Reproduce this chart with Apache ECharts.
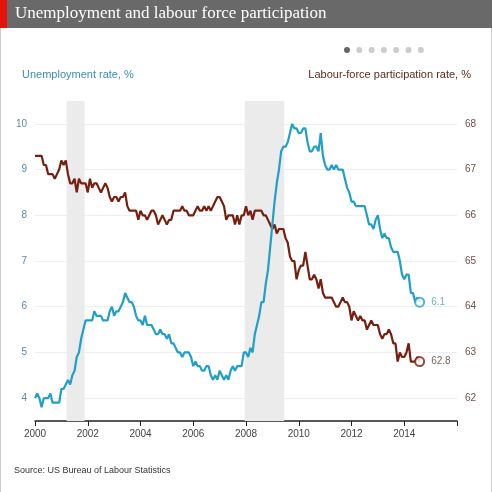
<!DOCTYPE html>
<html>
<head>
<meta charset="utf-8">
<script src="https://cdn.jsdelivr.net/npm/echarts@6/dist/echarts.min.js"></script>
<style>
html, body { margin: 0; padding: 0; background: #fff; }
#chart { width: 492px; height: 492px; }
</style>
</head>
<body>
<div id="chart"></div>
<script>
const startYear = 2000
// monthly unemployment rate, %, Jan 2000 onward
const unemployment = [
	4.0, 4.1, 4.0, 3.8, 4.0, 4.0, 4.0, 4.1, 3.9, 3.9, 3.9, 3.9,
	4.2, 4.2, 4.3, 4.4, 4.3, 4.5, 4.6, 4.9, 5.0, 5.3, 5.5, 5.7,
	5.7, 5.7, 5.7, 5.9, 5.8, 5.8, 5.8, 5.7, 5.7, 5.7, 5.9, 6.0,
	5.8, 5.9, 5.9, 6.0, 6.1, 6.3, 6.2, 6.1, 6.1, 6.0, 5.8, 5.7,
	5.7, 5.6, 5.8, 5.6, 5.6, 5.6, 5.5, 5.4, 5.4, 5.5, 5.4, 5.4,
	5.3, 5.4, 5.2, 5.2, 5.1, 5.0, 5.0, 4.9, 5.0, 5.0, 5.0, 4.9,
	4.7, 4.8, 4.7, 4.7, 4.6, 4.6, 4.7, 4.7, 4.5, 4.4, 4.5, 4.4,
	4.6, 4.5, 4.4, 4.5, 4.4, 4.6, 4.7, 4.6, 4.7, 4.7, 4.7, 5.0,
	5.0, 4.9, 5.1, 5.0, 5.4, 5.6, 5.8, 6.1, 6.1, 6.5, 6.8, 7.3,
	7.8, 8.3, 8.7, 9.0, 9.4, 9.5, 9.5, 9.6, 9.8, 10.0, 9.9, 9.9,
	9.8, 9.8, 9.9, 9.9, 9.6, 9.4, 9.4, 9.5, 9.5, 9.4, 9.8, 9.3,
	9.1, 9.0, 9.0, 9.1, 9.0, 9.1, 9.0, 9.0, 9.0, 8.8, 8.6, 8.5,
	8.3, 8.3, 8.2, 8.2, 8.2, 8.2, 8.2, 8.0, 7.8, 7.8, 7.7, 7.9,
	8.0, 7.7, 7.5, 7.6, 7.5, 7.5, 7.3, 7.2, 7.2, 7.2, 7.0, 6.7,
	6.6, 6.7, 6.7, 6.3, 6.3, 6.1, 6.2, 6.1,
]
// monthly labour-force participation rate, %
const participation = [
	67.3, 67.3, 67.3, 67.3, 67.1, 67.1, 66.9, 66.9, 66.9, 66.8, 66.9, 67.0,
	67.2, 67.1, 67.2, 66.9, 66.7, 66.7, 66.8, 66.5, 66.8, 66.7, 66.7, 66.7,
	66.5, 66.8, 66.6, 66.7, 66.7, 66.6, 66.5, 66.6, 66.7, 66.6, 66.4, 66.3,
	66.4, 66.4, 66.3, 66.4, 66.4, 66.5, 66.2, 66.1, 66.1, 66.1, 66.1, 65.9,
	66.1, 66.0, 66.0, 65.9, 66.0, 66.1, 66.1, 66.0, 65.8, 65.9, 66.0, 65.9,
	65.8, 65.9, 65.9, 66.1, 66.1, 66.1, 66.1, 66.2, 66.1, 66.1, 66.0, 66.0,
	66.0, 66.1, 66.2, 66.1, 66.1, 66.2, 66.1, 66.2, 66.1, 66.2, 66.3, 66.4,
	66.4, 66.3, 66.2, 65.9, 66.0, 66.0, 66.0, 65.8, 66.0, 65.8, 66.0, 66.0,
	66.2, 66.0, 66.1, 65.9, 66.1, 66.1, 66.1, 66.1, 66.0, 66.0, 65.9, 65.8,
	65.7, 65.8, 65.6, 65.7, 65.7, 65.7, 65.5, 65.4, 65.1, 65.0, 65.0, 64.6,
	64.8, 64.9, 64.9, 65.2, 64.9, 64.6, 64.6, 64.7, 64.6, 64.4, 64.6, 64.3,
	64.2, 64.2, 64.2, 64.2, 64.1, 64.0, 64.0, 64.1, 64.2, 64.1, 64.1, 64.0,
	63.7, 63.9, 63.8, 63.7, 63.8, 63.7, 63.7, 63.5, 63.6, 63.7, 63.6, 63.6,
	63.6, 63.4, 63.3, 63.4, 63.4, 63.5, 63.4, 63.2, 63.2, 62.8, 63.0, 62.9,
	62.9, 63.0, 63.2, 62.8, 62.8, 62.8, 62.9, 62.8,
]
// recessions (start, end) in fractional years
const recessions = [[2001.2, 2001.88], [2007.95, 2009.45]]
const xTicksHidden = [2016]
const leftTicks = [4, 5, 6, 7, 8, 9, 10]
const rightTicks = [62, 63, 64, 65, 66, 67, 68]

const blue = '#229fc7'
const brown = '#761f0f'

const toPoints = arr => arr.map((v, i) => [startYear + i / 12, v])
const urPts = toPoints(unemployment)
const lfPts = toPoints(participation)
const urLast = urPts[urPts.length - 1]
const lfLast = lfPts[lfPts.length - 1]

const chart = echarts.init(document.getElementById('chart'))
const dots = []
for (let i = 0; i < 7; i++) {
	dots.push({
		type: 'circle',
		shape: { cx: 347 + i * 12.3, cy: 50, r: 3 },
		style: { fill: i === 0 ? '#666' : '#ccc' },
	})
}
chart.setOption({
	animation: false,
	grid: { left: 35, right: 35, top: 101, bottom: 71 },
	graphic: [
		{ type: 'rect', shape: { x: 0, y: 0, width: 492, height: 28 }, style: { fill: '#696969' } },
		{ type: 'rect', shape: { x: 0, y: 0, width: 7, height: 28 }, style: { fill: '#e3120b' } },
		{ type: 'text', left: 15, top: 5, style: { text: 'Unemployment and labour force participation', fill: '#fff', font: '17px "Liberation Serif", "DejaVu Serif", serif' } },
		{ type: 'rect', shape: { x: 0, y: 28, width: 1, height: 464 }, style: { fill: '#ccc' } },
		{ type: 'rect', shape: { x: 491, y: 28, width: 1, height: 464 }, style: { fill: '#ccc' } },
		{ type: 'text', left: 22, top: 69, style: { text: 'Unemployment rate, %', fill: '#3a8fb0', font: '11px "Liberation Sans", Arial, sans-serif' } },
		{ type: 'text', right: 21, top: 69, style: { text: 'Labour-force participation rate, %', fill: '#5a2a20', font: '11px "Liberation Sans", Arial, sans-serif' } },
		{ type: 'text', left: 14, top: 466, style: { text: 'Source: US Bureau of Labour Statistics', fill: '#333', font: '9px "Liberation Sans", Arial, sans-serif' } },
	].concat(dots),
	xAxis: {
		type: 'value', min: 2000, max: 2016, interval: 2,
		axisLine: { lineStyle: { color: '#222', width: 1.5 } },
		axisTick: { show: true, length: 5, inside: false, lineStyle: { color: '#222' } },
		axisLabel: { color: '#444', fontSize: 10, formatter: v => xTicksHidden.includes(v) ? '' : String(v) },
		splitLine: { show: false },
	},
	yAxis: [
		{
			type: 'value', min: 3.5, max: 10.5,
			axisLine: { show: false },
			axisTick: { show: false, customValues: leftTicks },
			axisLabel: { color: '#5d8aa8', fontSize: 10, customValues: leftTicks },
			splitLine: { lineStyle: { color: '#eee' } },
		},
		{
			type: 'value', min: 61.5, max: 68.5,
			axisLine: { show: false },
			axisTick: { show: false, customValues: rightTicks },
			axisLabel: { color: '#6e5048', fontSize: 10, customValues: rightTicks },
			splitLine: { show: false },
		},
	],
	series: [
		{
			type: 'line', data: urPts, yAxisIndex: 0, showSymbol: false,
			lineStyle: { color: blue, width: 2.2 }, itemStyle: { color: blue },
			markArea: {
				silent: true, itemStyle: { color: '#ebebeb' },
				data: recessions.map(r => [{ xAxis: r[0] }, { xAxis: r[1] }]),
			},
			z: 3,
		},
		{
			type: 'line', data: lfPts, yAxisIndex: 1, showSymbol: false,
			lineStyle: { color: brown, width: 2.2 }, itemStyle: { color: brown }, z: 2,
		},
		{
			type: 'scatter', data: [urLast], yAxisIndex: 0, symbol: 'circle', symbolSize: 9,
			itemStyle: { color: '#fff', borderColor: blue, borderWidth: 2 },
			label: { show: true, position: 'right', distance: 6, color: '#4a9fc0', fontSize: 10, formatter: p => p.value[1].toFixed(1) },
			z: 5,
		},
		{
			type: 'scatter', data: [lfLast], yAxisIndex: 1, symbol: 'circle', symbolSize: 9,
			itemStyle: { color: '#fff', borderColor: brown, borderWidth: 2 },
			label: { show: true, position: 'right', distance: 6, color: '#5a3a32', fontSize: 10, formatter: p => p.value[1].toFixed(1) },
			z: 5,
		},
	],
})
</script>
</body>
</html>
